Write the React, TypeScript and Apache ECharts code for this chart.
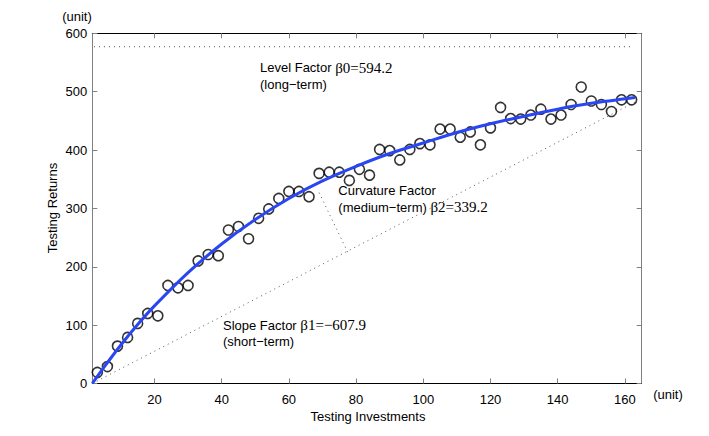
import React, { useEffect, useRef } from "react";
import * as echarts from "echarts";

// tick labels
const xTicks = [20, 40, 60, 80, 100, 120, 140, 160];
const yMin = 0;
const yMax = 600;
const yStep = 100;
const xMin = 1.5;
const xMax = 165;

// observed points (Testing Investments vs Testing Returns)
const sampleX = [
  3, 6, 9, 12, 15, 18, 21, 24, 27, 30, 33, 36, 39, 42, 45, 48, 51, 54, 57, 60,
  63, 66, 69, 72, 75, 78, 81, 84, 87, 90, 93, 96, 99, 102, 105, 108, 111, 114,
  117, 120, 123, 126, 129, 132, 135, 138, 141, 144, 147, 150, 153, 156, 159, 162,
];
const sampleY = [
  19, 29, 64, 79, 103, 120, 116, 168, 164, 168, 210, 221, 219, 263, 269, 248,
  283, 299, 317, 329, 329, 320, 360, 362, 362, 348, 367, 357, 401, 399, 383, 401,
  411, 409, 436, 436, 422, 431, 409, 438, 473, 454, 453, 460, 470, 453, 460, 478,
  508, 484, 478, 466, 486, 486,
];

// fitted curve
const fitX = [1.5, 5, 10, 15, 20, 30, 40, 50, 60, 70, 80, 90, 100, 110, 120, 130, 140, 150, 163];
const fitY = [0, 28, 66, 101, 133, 190, 239, 281, 317, 347, 372, 394, 412, 430, 445, 458, 470, 480, 490];

// factor guide lines
const levelX = [2, 162];
const levelY = [577, 577];
const slopeX = [1.5, 163];
const slopeY = [0, 482];
const curvX = [69, 77.5];
const curvY = [327, 225];

// annotation texts
const levelLabel = ["Level Factor ", "β0=594.2", "(long−term)"];
const curvLabel = ["Curvature Factor", "(medium−term) ", "β2=339.2"];
const slopeLabel = ["Slope Factor ", "β1=−607.9", "(short−term)"];

const SANS = "'Liberation Sans', Arial, Helvetica, sans-serif";
const SERIF = "'Liberation Serif', 'Times New Roman', serif";

const zip = (xs: number[], ys: number[]) => xs.map((x, i) => [x, ys[i]]);

export default function App() {
  const ref = useRef<HTMLDivElement>(null);

  useEffect(() => {
    if (!ref.current) return;
    const chart = echarts.init(ref.current, undefined, { renderer: "svg" });

    const gray = "#808080";
    const tickStyle = { show: true, inside: true, length: 5, lineStyle: { color: gray, width: 1 } };

    const rich = {
      a: { fontFamily: SANS, fontSize: 13, fill: "#000", lineHeight: 16.5 },
      b: { fontFamily: SERIF, fontSize: 15, fill: "#000", lineHeight: 16.5 },
    };

    const option: any = {
      animation: false,
      backgroundColor: "#fff",
      grid: { left: 92.3, right: 67.3, top: 33.3, bottom: 52.5, containLabel: false },
      xAxis: [
        {
          type: "value",
          position: "bottom",
          min: xMin,
          max: xMax,
          axisLine: { show: true, onZero: false, lineStyle: { color: "#000", width: 1 } },
          axisTick: { ...tickStyle, customValues: xTicks },
          axisLabel: {
            customValues: xTicks,
            color: "#000",
            fontSize: 13,
            fontFamily: SANS,
            margin: 9,
          },
          splitLine: { show: false },
        },
        {
          type: "value",
          position: "top",
          min: xMin,
          max: xMax,
          axisLine: { show: true, onZero: false, lineStyle: { color: "#000", width: 1 } },
          axisTick: { ...tickStyle, customValues: xTicks },
          axisLabel: { show: false, customValues: xTicks },
          splitLine: { show: false },
        },
      ],
      yAxis: [
        {
          type: "value",
          position: "left",
          min: yMin,
          max: yMax,
          interval: yStep,
          axisLine: { show: true, onZero: false, lineStyle: { color: gray, width: 1 } },
          axisTick: tickStyle,
          axisLabel: { color: "#000", fontSize: 13, fontFamily: SANS, margin: 5 },
          splitLine: { show: false },
        },
        {
          type: "value",
          position: "right",
          min: yMin,
          max: yMax,
          interval: yStep,
          axisLine: { show: true, onZero: false, lineStyle: { color: gray, width: 1 } },
          axisTick: tickStyle,
          axisLabel: { show: false },
          splitLine: { show: false },
        },
      ],
      series: [
        {
          type: "line",
          data: zip(levelX, levelY),
          symbol: "none",
          lineStyle: { color: "#555", width: 1, type: [1, 4] },
          z: 2,
        },
        {
          type: "line",
          data: zip(slopeX, slopeY),
          symbol: "none",
          lineStyle: { color: "#555", width: 1, type: [1, 4] },
          z: 2,
        },
        {
          type: "line",
          data: zip(curvX, curvY),
          symbol: "none",
          lineStyle: { color: "#555", width: 1, type: [1, 4] },
          z: 2,
        },
        {
          type: "scatter",
          data: zip(sampleX, sampleY),
          symbol: "circle",
          symbolSize: 10,
          itemStyle: { color: "rgba(0,0,0,0)", borderColor: "#000", borderWidth: 1.6 },
          z: 3,
        },
        {
          type: "line",
          data: zip(fitX, fitY),
          symbol: "none",
          smooth: 0.3,
          lineStyle: { color: "#2a46f2", width: 3 },
          z: 4,
        },
      ],
      graphic: [
        {
          type: "text",
          x: 260,
          y: 59.5,
          style: {
            text: `{a|${levelLabel[0]}}{b|${levelLabel[1]}}\n{a|${levelLabel[2]}}`,
            rich,
            verticalAlign: "top",
          },
        },
        {
          type: "text",
          x: 338.3,
          y: 182.5,
          style: {
            text: `{a|${curvLabel[0]}}\n{a|${curvLabel[1]}}{b|${curvLabel[2]}}`,
            rich,
            verticalAlign: "top",
          },
        },
        {
          type: "text",
          x: 223,
          y: 317,
          style: {
            text: `{a|${slopeLabel[0]}}{b|${slopeLabel[1]}}\n{a|${slopeLabel[2]}}`,
            rich,
            verticalAlign: "top",
          },
        },
        {
          type: "text",
          x: 77,
          y: 16,
          style: {
            text: "(unit)",
            fontFamily: SANS,
            fontSize: 13,
            fill: "#000",
            align: "center",
            verticalAlign: "middle",
          },
        },
        {
          type: "text",
          x: 668,
          y: 394,
          style: {
            text: "(unit)",
            fontFamily: SANS,
            fontSize: 13,
            fill: "#000",
            align: "center",
            verticalAlign: "middle",
          },
        },
        {
          type: "text",
          x: 368,
          y: 416,
          style: {
            text: "Testing Investments",
            fontFamily: SANS,
            fontSize: 13,
            fill: "#000",
            align: "center",
            verticalAlign: "middle",
          },
        },
        {
          type: "text",
          x: 52,
          y: 208,
          rotation: Math.PI / 2,
          style: {
            text: "Testing Returns",
            fontFamily: SANS,
            fontSize: 13,
            fill: "#000",
            align: "center",
            verticalAlign: "middle",
          },
        },
      ],
    };

    chart.setOption(option);
    return () => chart.dispose();
  }, []);

  return (
    <div
      ref={ref}
      style={{ position: "absolute", left: 0, top: 0, width: 709, height: 436 }}
    />
  );
}
